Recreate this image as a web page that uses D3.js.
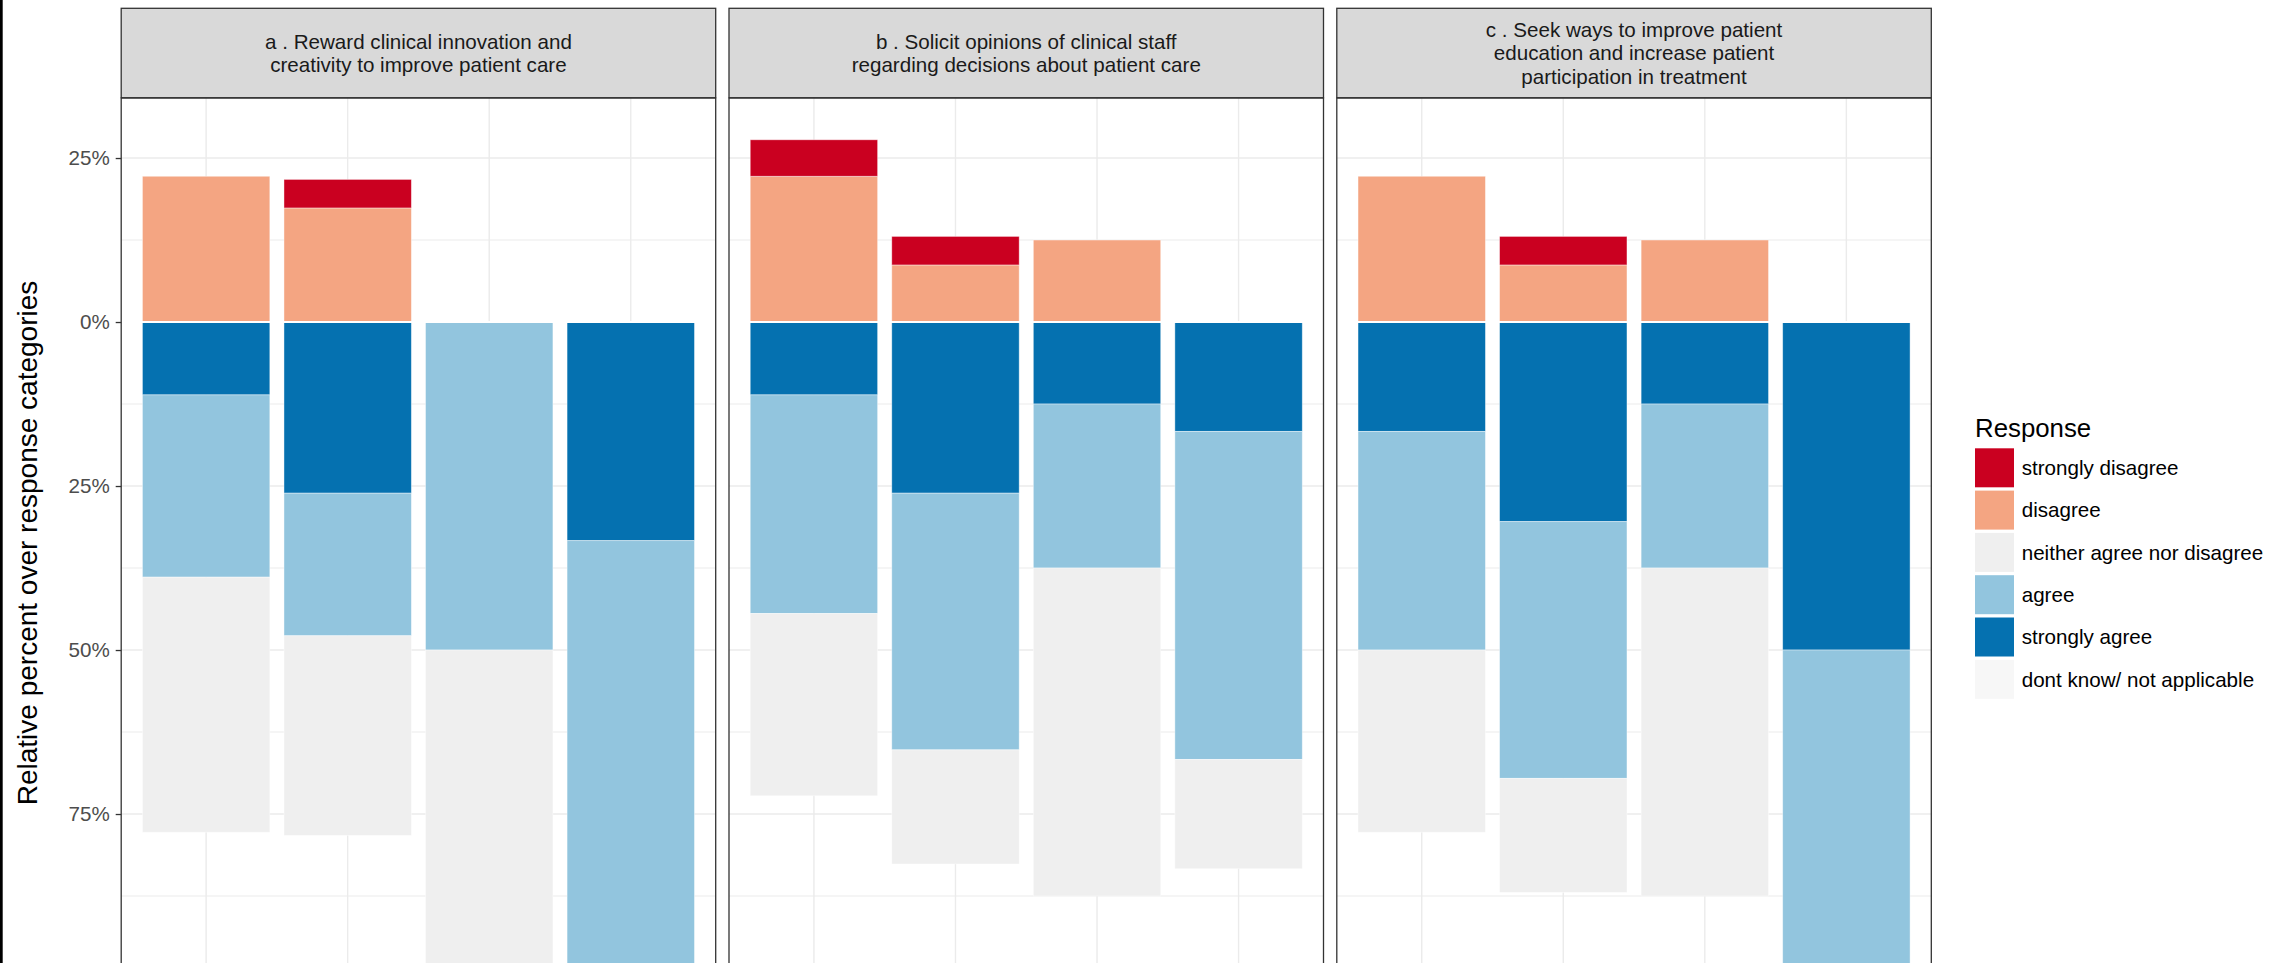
<!DOCTYPE html>
<html>
<head>
<meta charset="utf-8">
<script src="https://cdn.jsdelivr.net/npm/d3@7"></script>
<style>
  html, body { margin: 0; padding: 0; background: #fff; }
  svg { display: block; }
</style>
</head>
<body>
<svg id="chart"></svg>
<script>
// Facet titles (one panel per statement)
const facets = [
  "a . Reward clinical innovation and\ncreativity to improve patient care",
  "b . Solicit opinions of clinical staff\nregarding decisions about patient care",
  "c . Seek ways to improve patient\neducation and increase patient\nparticipation in treatment"
];
// Respondent groups inside each panel
const groups = ["G1", "G2", "G3", "G4"];
const responses = ["strongly disagree", "disagree", "neither agree nor disagree",
                   "agree", "strongly agree", "dont know/ not applicable"];
const responseColors = ["#ca0020", "#f4a582", "#efefef", "#92c5de", "#0571b0", "#f7f7f7"];

// Percent of respondents, indexed [facet][group]
const stronglyDisagree = [[0, 4.35, 0, 0], [5.56, 4.35, 0, 0], [0, 4.35, 0, 0]];
const disagree         = [[22.22, 17.39, 0, 0], [22.22, 8.70, 12.5, 0], [22.22, 8.70, 12.5, 0]];
const neither          = [[38.89, 30.43, 50, 0], [27.78, 17.39, 50, 16.67], [27.78, 17.39, 50, 0]];
const agree            = [[27.78, 21.74, 50, 66.67], [33.33, 39.13, 25, 50], [33.33, 39.13, 25, 50]];
const stronglyAgree    = [[11.11, 26.09, 0, 33.33], [11.11, 26.09, 12.5, 16.67], [16.67, 30.43, 12.5, 50]];

const yTicks = [-25, 0, 25, 50, 75];
const yGridMajor = [-25, 0, 25, 50, 75, 100];
const yMinorTicks = [-12.5, 12.5, 37.5, 62.5, 87.5];

const W = 2275, H = 963;
const FONT = "'Liberation Sans', Arial, Helvetica, sans-serif";

const svg = d3.select("#chart").attr("width", W).attr("height", H)
  .style("font-family", FONT);
svg.append("rect").attr("width", W).attr("height", H).attr("fill", "#fff");

// left edge rule
svg.append("rect").attr("x", 0).attr("y", 0).attr("width", 2.7).attr("height", H).attr("fill", "#000");

// layout
const panelW = 594.5, gap = 13.3, firstLeft = 121.2;
const stripTop = 8.3, stripBottom = 97.7;
const panelTop = 98, panelBottom = 1020;

const y = d3.scaleLinear().domain([-34.15, 106.4]).range([panelTop, panelBottom]);

// stacking: disagree side goes up from 0, agree side goes down from 0
function segments(f, g) {
  const segs = [];
  let lo = 0;
  [[1, disagree], [0, stronglyDisagree]].forEach(([ri, arr]) => {
    const v = arr[f][g];
    if (v > 0) { segs.push({ r: ri, y0: lo - v, y1: lo }); lo -= v; }
  });
  let hi = 0;
  [[4, stronglyAgree], [3, agree], [2, neither]].forEach(([ri, arr]) => {
    const v = arr[f][g];
    if (v > 0) { segs.push({ r: ri, y0: hi, y1: hi + v }); hi += v; }
  });
  return segs;
}

facets.forEach((title, f) => {
  const left = firstLeft + f * (panelW + gap);
  const x = d3.scaleBand().domain(groups).range([left, left + panelW])
    .paddingInner(0.1).paddingOuter(0.15);

  const g = svg.append("g");
  const clipId = "clip" + f;
  svg.append("clipPath").attr("id", clipId)
    .append("rect").attr("x", left).attr("y", panelTop)
    .attr("width", panelW).attr("height", panelBottom - panelTop);

  const inner = g.append("g").attr("clip-path", `url(#${clipId})`);
  inner.append("rect").attr("x", left).attr("y", panelTop)
    .attr("width", panelW).attr("height", panelBottom - panelTop).attr("fill", "#fff");

  // grid
  inner.selectAll(".minor").data(yMinorTicks).join("line")
    .attr("x1", left).attr("x2", left + panelW)
    .attr("y1", d => y(d)).attr("y2", d => y(d))
    .attr("stroke", "#ebebeb").attr("stroke-width", 1);
  inner.selectAll(".major").data(yGridMajor).join("line")
    .attr("x1", left).attr("x2", left + panelW)
    .attr("y1", d => y(d)).attr("y2", d => y(d))
    .attr("stroke", "#ebebeb").attr("stroke-width", 1.4);
  inner.selectAll(".vgrid").data(groups).join("line")
    .attr("x1", d => x(d) + x.bandwidth() / 2).attr("x2", d => x(d) + x.bandwidth() / 2)
    .attr("y1", panelTop).attr("y2", panelBottom)
    .attr("stroke", "#ebebeb").attr("stroke-width", 1.4);

  // bars
  groups.forEach((grp, gi) => {
    inner.selectAll(null).data(segments(f, gi)).join("rect")
      .attr("x", x(grp)).attr("width", x.bandwidth())
      .attr("y", d => y(d.y0)).attr("height", d => y(d.y1) - y(d.y0))
      .attr("fill", d => responseColors[d.r])
      .attr("stroke", "#ffffff").attr("stroke-opacity", 0.5).attr("stroke-width", 0.8);
  });

  // zero line
  inner.append("line").attr("x1", left).attr("x2", left + panelW)
    .attr("y1", y(0)).attr("y2", y(0))
    .attr("stroke", "#fff").attr("stroke-width", 2);

  // panel border
  g.append("rect").attr("x", left).attr("y", panelTop)
    .attr("width", panelW).attr("height", panelBottom - panelTop)
    .attr("fill", "none").attr("stroke", "#333333").attr("stroke-width", 1.3);

  // strip
  g.append("rect").attr("x", left).attr("y", stripTop)
    .attr("width", panelW).attr("height", stripBottom - stripTop)
    .attr("fill", "#d9d9d9").attr("stroke", "#333333").attr("stroke-width", 1.3);
  const lines = title.split("\n");
  const fs = 20.6, lh = 23.3;
  const cy = (stripTop + stripBottom) / 2;
  const firstBase = cy - (lines.length - 1) * lh / 2 + 0.716 * fs / 2;
  g.append("text")
    .attr("x", left + panelW / 2)
    .attr("text-anchor", "middle")
    .attr("font-size", fs).attr("fill", "#1a1a1a")
    .selectAll("tspan").data(lines).join("tspan")
    .attr("x", left + panelW / 2)
    .attr("y", (d, i) => firstBase + i * lh)
    .text(d => d);
});

// y axis on the first panel
const axisX = firstLeft;
const yAxis = d3.axisLeft(y).tickValues(yTicks).tickSize(5.5).tickPadding(6)
  .tickFormat(d => Math.abs(d) + "%");
const ax = svg.append("g").attr("transform", `translate(${axisX},0)`).call(yAxis);
ax.select(".domain").remove();
ax.selectAll(".tick line").attr("stroke", "#333333").attr("stroke-width", 1.3);
ax.selectAll(".tick text").attr("font-size", 20.6).attr("fill", "#4d4d4d")
  .attr("font-family", FONT);

// y axis title
svg.append("text")
  .attr("transform", "translate(36.5,543) rotate(-90)")
  .attr("text-anchor", "middle")
  .attr("font-size", 28).attr("fill", "#000")
  .text("Relative percent over response categories");

// legend
const lg = svg.append("g");
const lgX = 1975, keyTop = 448.3, pitch = 42.3, keySize = 39;
lg.append("text").attr("x", lgX).attr("y", 436.5)
  .attr("font-size", 25.8).attr("fill", "#000").text("Response");
responses.forEach((r, i) => {
  const ky = keyTop + i * pitch;
  lg.append("rect").attr("x", lgX).attr("y", ky)
    .attr("width", keySize).attr("height", keySize)
    .attr("fill", responseColors[i]);
  lg.append("text").attr("x", 2021.7).attr("y", ky + keySize / 2)
    .attr("dy", "0.35em").attr("font-size", 20.6).attr("fill", "#000")
    .text(r);
});
</script>
</body>
</html>
